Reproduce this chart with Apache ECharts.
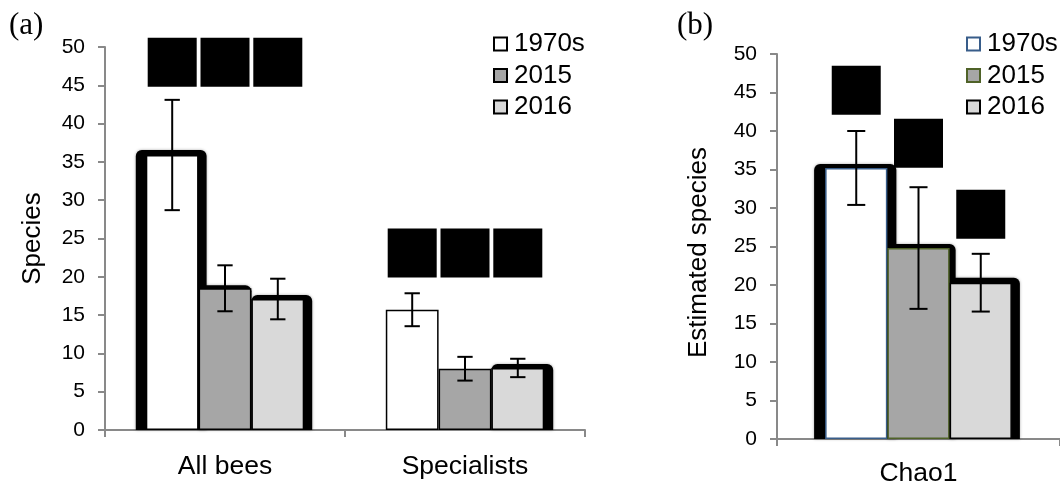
<!DOCTYPE html>
<html>
<head>
<meta charset="utf-8">
<script src="https://cdn.jsdelivr.net/npm/echarts@6/dist/echarts.min.js"></script>
<style>
  html, body { margin: 0; padding: 0; background: #fff; }
  #chart { width: 1060px; height: 487px; }
</style>
</head>
<body>
<div id="chart"></div>
<script>
// ---- data -------------------------------------------------------------
const groupsA = ['All bees', 'Specialists'];
const groupsB = ['Chao1'];
const periods = ['1970s', '2015', '2016'];
const yTicks = [0, 50, 5]; // min, max, step

// (a) observed species richness: means and error half-widths
const speciesA1970s = [35.9, 15.7];
const speciesA2015 = [18.5, 8.0];
const speciesA2016 = [17.1, 8.1];
const errA1970s = [7.2, 2.15];
const errA2015 = [3.0, 1.55];
const errA2016 = [2.65, 1.2];

// (b) Chao1 estimate, one value per period
const chaoMean = [35.2, 24.8, 20.3];
const chaoErr = [4.8, 7.9, 3.75];

// value level of the black label blocks above each group / bar
const blockLevelA = [48.0, 23.1];
const blockLevelB = [45.3, 38.4, 29.2];

// ---- styling ----------------------------------------------------------
const SANS = 'Liberation Sans, Arial, sans-serif';
const SERIF = 'Liberation Serif, Times New Roman, serif';
const GAP = 0.34;
const AXIS_GREY = '#898989';
const fills = ['#ffffff', '#a6a6a6', '#d9d9d9'];
const bordersA = ['#000000', '#000000', '#000000'];
const bordersB = ['#385d8a', '#4f6228', '#000000'];

// dark halo drawn behind selected bars: [left, top, right] spread in px
const haloA = { '0-0': [10, 5, 8], '0-1': [0, 3, 0], '0-2': [0, 4, 8], '1-2': [0, 4, 9] };
const haloB = { '0-0': [11, 4, 9], '0-1': [0, 4, 6], '0-2': [0, 5, 8] };

function barGeom(api, c) {
  const band = api.size([1, 0])[0];
  const bw = band * (1 - GAP) / 3;
  const p = api.coord([c, 0]);
  return { x0: p[0], y0: p[1], bw: bw };
}

function errorRender(params, api) {
  const c = api.value(0), s = api.value(1), m = api.value(2), e = api.value(3);
  const g = barGeom(api, c);
  const x = g.x0 + (s - 1) * g.bw;
  const yt = api.coord([c, m + e])[1];
  const yb = api.coord([c, m - e])[1];
  const h = g.bw * 0.145;
  const st = { stroke: '#000', lineWidth: 2 };
  return {
    type: 'group',
    children: [
      { type: 'line', shape: { x1: x, y1: yt, x2: x, y2: yb }, style: st },
      { type: 'line', shape: { x1: x - h, y1: yt, x2: x + h, y2: yt }, style: st },
      { type: 'line', shape: { x1: x - h, y1: yb, x2: x + h, y2: yb }, style: st }
    ]
  };
}

function makeHaloRender(halo) {
  return function (params, api) {
    const c = api.value(0), s = api.value(1), m = api.value(2);
    const spread = halo[c + '-' + s];
    if (!spread) return null;
    const g = barGeom(api, c);
    const x = g.x0 + (s - 1) * g.bw - g.bw / 2 - spread[0];
    const yTop = api.coord([c, m])[1] - spread[1];
    return {
      type: 'rect',
      shape: { x: x, y: yTop, width: g.bw + spread[0] + spread[2], height: g.y0 - yTop, r: [6, 6, 0, 0] },
      style: { fill: '#000', shadowBlur: 3, shadowColor: 'rgba(0,0,0,0.35)' }
    };
  };
}

function blockRender(params, api) {
  const c = api.value(0), s = api.value(1), v = api.value(2);
  const g = barGeom(api, c);
  const x = g.x0 + (s - 1) * g.bw;
  const y = api.coord([c, v])[1];
  const size = 49;
  return {
    type: 'rect',
    shape: { x: x - size / 2, y: y - size / 2, width: size, height: size },
    style: { fill: '#000' }
  };
}

// ---- assembled series data ------------------------------------------
const meansA = [speciesA1970s, speciesA2015, speciesA2016];
const errsA = [errA1970s, errA2015, errA2016];
const errDataA = [];
meansA.forEach((arr, s) => arr.forEach((m, c) => errDataA.push([c, s, m, errsA[s][c]])));
const errDataB = chaoMean.map((m, s) => [0, s, m, chaoErr[s]]);
const blockDataA = [];
blockLevelA.forEach((v, c) => periods.forEach((p, s) => blockDataA.push([c, s, v])));
const blockDataB = blockLevelB.map((v, s) => [0, s, v]);

const barSeriesA = periods.map((p, s) => ({
  name: p, type: 'bar', xAxisIndex: 0, yAxisIndex: 0,
  data: meansA[s], barGap: '0%', barCategoryGap: (GAP * 100) + '%', z: 2,
  itemStyle: { color: fills[s], borderColor: bordersA[s], borderWidth: 1.5 }
}));
const barSeriesB = periods.map((p, s) => ({
  name: p, type: 'bar', xAxisIndex: 1, yAxisIndex: 1,
  data: [chaoMean[s]], barGap: '0%', barCategoryGap: (GAP * 100) + '%', z: 2,
  itemStyle: { color: fills[s], borderColor: bordersB[s], borderWidth: 1.5 }
}));

function yAxisCfg(gridIndex, name, nameGap, namePad) {
  return {
    type: 'value', gridIndex: gridIndex, min: yTicks[0], max: yTicks[1], interval: yTicks[2],
    name: name, nameLocation: 'middle', nameGap: nameGap,
    nameTextStyle: { fontFamily: SANS, fontSize: 26, color: '#000', padding: namePad },
    axisLine: { show: true, lineStyle: { color: AXIS_GREY, width: 2 } },
    axisTick: { show: true, length: 7, lineStyle: { color: AXIS_GREY, width: 2 } },
    axisLabel: { fontFamily: SANS, fontSize: 21, color: '#000', margin: 20 },
    splitLine: { show: false }
  };
}
function xAxisCfg(gridIndex, cats, margin) {
  return {
    type: 'category', gridIndex: gridIndex, data: cats,
    axisLine: { show: true, lineStyle: { color: AXIS_GREY, width: 2 } },
    axisTick: { show: true, length: 7, alignWithLabel: false, lineStyle: { color: AXIS_GREY, width: 2 } },
    axisLabel: { fontFamily: SANS, fontSize: 26.5, color: '#000', margin: margin, interval: 0 },
    splitLine: { show: false }
  };
}
function legendCfg(left, borders) {
  return {
    orient: 'vertical', left: left, top: 31, padding: 0,
    itemWidth: 13, itemHeight: 13, itemGap: 5.5,
    selectedMode: false, icon: 'rect',
    textStyle: { fontFamily: SANS, fontSize: 26, color: '#000', lineHeight: 26, padding: [0, 0, 0, 2] },
    data: periods.map((p, s) => ({
      name: p, icon: 'rect',
      itemStyle: { color: fills[s], borderColor: borders[s], borderWidth: 2 }
    }))
  };
}

const option = {
  animation: false,
  backgroundColor: '#ffffff',
  title: [
    { text: '(a)', left: 9, top: 10, padding: 0, textStyle: { fontFamily: SERIF, fontSize: 31, fontWeight: 'normal', color: '#000' } },
    { text: '(b)', left: 677, top: 10, padding: 0, textStyle: { fontFamily: SERIF, fontSize: 31, fontWeight: 'normal', color: '#000' } }
  ],
  legend: [legendCfg(493, bordersA), legendCfg(966, bordersB)],
  grid: [
    { left: 105, top: 47, width: 480, height: 383 },
    { left: 777, top: 54, width: 287, height: 385 }
  ],
  xAxis: [xAxisCfg(0, groupsA, 23), xAxisCfg(1, groupsB, 21)],
  yAxis: [yAxisCfg(0, 'Species', 59, [0, 0, 0, 0]), yAxisCfg(1, 'Estimated species', 65, [0, 12, 0, 0])],
  series: [
    { type: 'custom', xAxisIndex: 0, yAxisIndex: 0, z: 1, silent: true, clip: false,
      renderItem: makeHaloRender(haloA), encode: { x: 0, y: 2 }, data: errDataA },
    { type: 'custom', xAxisIndex: 1, yAxisIndex: 1, z: 1, silent: true, clip: false,
      renderItem: makeHaloRender(haloB), encode: { x: 0, y: 2 }, data: errDataB },
    ...barSeriesA,
    ...barSeriesB,
    { type: 'custom', xAxisIndex: 0, yAxisIndex: 0, z: 3, silent: true, clip: false,
      renderItem: errorRender, encode: { x: 0, y: 2 }, data: errDataA },
    { type: 'custom', xAxisIndex: 1, yAxisIndex: 1, z: 3, silent: true, clip: false,
      renderItem: errorRender, encode: { x: 0, y: 2 }, data: errDataB },
    { type: 'custom', xAxisIndex: 0, yAxisIndex: 0, z: 4, silent: true, clip: false,
      renderItem: blockRender, encode: { x: 0, y: 2 }, data: blockDataA },
    { type: 'custom', xAxisIndex: 1, yAxisIndex: 1, z: 4, silent: true, clip: false,
      renderItem: blockRender, encode: { x: 0, y: 2 }, data: blockDataB }
  ]
};

const chart = echarts.init(document.getElementById('chart'), null, { renderer: 'canvas' });
chart.setOption(option);
</script>
</body>
</html>
